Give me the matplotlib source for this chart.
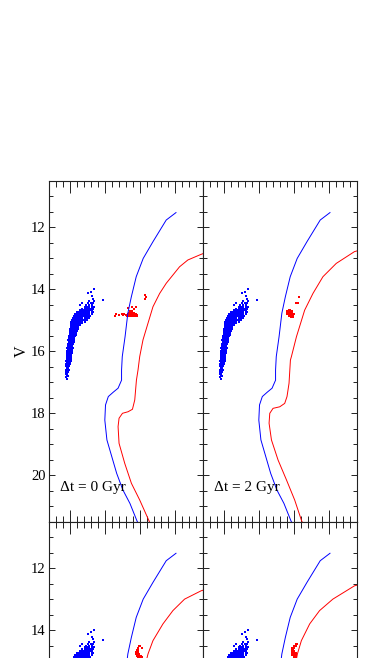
import matplotlib

matplotlib.use("Agg")
import matplotlib.pyplot as plt
from matplotlib.ticker import MultipleLocator

plt.rcParams["font.family"] = ["Liberation Serif", "DejaVu Serif"]

# isochrones (colour, V)
blue_iso_col = [1.52, 1.38, 1.19, 1.05, 0.95, 0.88, 0.83, 0.79, 0.75, 0.74, 0.74, 0.69,
                0.62, 0.55, 0.51, 0.50, 0.53, 0.60, 0.67, 0.76, 0.86, 0.96, 1.00]
blue_iso_v = [11.52, 11.76, 12.46, 13.00, 13.59, 14.24, 14.77, 15.53, 16.17, 16.60, 16.93, 17.19,
              17.32, 17.46, 17.73, 18.22, 18.86, 19.40, 19.94, 20.48, 20.91, 21.47, 21.65]

red_iso_col_0 = [2.00, 1.857, 1.69, 1.571, 1.381, 1.286, 1.19, 1.119, 1.047, 1.00, 0.976, 0.953,
                 0.929, 0.896, 0.833, 0.753, 0.704, 0.69, 0.704, 0.786, 0.881, 1.00, 1.133, 1.16]
red_iso_v_0 = [12.76, 12.89, 13.05, 13.27, 13.80, 14.13, 14.56, 15.09, 15.63, 16.17, 16.60, 16.93,
               17.57, 17.87, 17.95, 18.00, 18.16, 18.43, 18.97, 19.62, 20.26, 20.80, 21.47, 21.60]

red_iso_col_1 = [2.00, 1.871, 1.61, 1.419, 1.276, 1.157, 1.039, 0.967, 0.953, 0.933, 0.904, 0.871,
                 0.80, 0.704, 0.657, 0.647, 0.681, 0.776, 0.896, 1.014, 1.11, 1.14]
red_iso_v_1 = [12.70, 12.78, 13.16, 13.59, 14.13, 14.67, 15.53, 16.17, 16.28, 17.03, 17.46, 17.68,
               17.79, 17.84, 18.00, 18.32, 18.86, 19.51, 20.15, 20.80, 21.45, 21.60]

red_iso_col_2 = [2.00, 1.881, 1.643, 1.476, 1.333, 1.19, 1.119, 1.06, 1.01, 0.98, 0.95, 0.92,
                 0.86, 0.76, 0.68, 0.66, 0.70, 0.80, 0.92, 1.03, 1.13]
red_iso_v_2 = [12.65, 12.73, 13.00, 13.37, 13.80, 14.34, 14.77, 15.30, 16.00, 16.60, 17.20, 17.60,
               17.75, 17.82, 17.95, 18.30, 18.90, 19.55, 20.20, 20.85, 21.50]

red_iso_col_3 = [2.00, 1.871, 1.561, 1.371, 1.229, 1.11, 1.053, 1.01, 0.98, 0.95, 0.92, 0.86,
                 0.76, 0.68, 0.66, 0.70, 0.80, 0.92, 1.03, 1.13]
red_iso_v_3 = [12.50, 12.57, 13.00, 13.37, 13.80, 14.34, 14.77, 15.30, 16.00, 16.80, 17.50, 17.70,
               17.78, 17.92, 18.30, 18.90, 19.55, 20.20, 20.85, 21.50]

# blue stars: one V per row, several colours per row
blue_rows_v = [16.90, 16.84, 16.78, 16.72, 16.66, 16.60, 16.54, 16.48, 16.42, 16.36, 16.30,
               16.24, 16.18, 16.12, 16.06, 16.00, 15.94, 15.88, 15.82, 15.76, 15.70, 15.64,
               15.58, 15.52, 15.46, 15.40, 15.34, 15.28, 15.22, 15.16, 15.10, 15.04, 14.98,
               14.92, 14.86, 14.80, 14.74, 14.68, 14.62, 14.56, 14.50, 14.44, 14.38, 14.33,
               14.30, 14.22, 14.13, 14.07, 14.00]
blue_rows_col = [
    [-0.04], [-0.055], [-0.045, -0.03], [-0.06, -0.035], [-0.05, -0.025],
    [-0.055, -0.035, -0.015], [-0.045, -0.025], [-0.05, -0.03, -0.01],
    [-0.055, -0.035, -0.015, 0.0], [-0.045, -0.025, -0.005], [-0.05, -0.03, -0.01, 0.01],
    [-0.04, -0.02, 0.0, 0.015], [-0.045, -0.025, -0.005, 0.015], [-0.04, -0.02, 0.0, 0.02],
    [-0.035, -0.015, 0.005, 0.025], [-0.04, -0.02, 0.0, 0.02, 0.03],
    [-0.03, -0.01, 0.01, 0.03], [-0.035, -0.015, 0.005, 0.025, 0.04],
    [-0.025, -0.005, 0.015, 0.035], [-0.03, -0.01, 0.01, 0.03, 0.05],
    [-0.02, 0.0, 0.02, 0.04, 0.055], [-0.025, -0.005, 0.015, 0.035, 0.06],
    [-0.015, 0.005, 0.025, 0.045, 0.065], [-0.01, 0.01, 0.03, 0.05, 0.075],
    [-0.005, 0.015, 0.035, 0.055, 0.08], [0.0, 0.02, 0.04, 0.06, 0.085],
    [-0.005, 0.015, 0.035, 0.055, 0.075, 0.095], [0.005, 0.025, 0.045, 0.065, 0.09, 0.11],
    [0.01, 0.03, 0.05, 0.07, 0.09, 0.12], [0.01, 0.03, 0.05, 0.075, 0.10, 0.125, 0.15],
    [0.02, 0.04, 0.06, 0.085, 0.11, 0.14, 0.17],
    [0.02, 0.045, 0.07, 0.095, 0.12, 0.15, 0.18, 0.21],
    [0.03, 0.055, 0.08, 0.105, 0.13, 0.16, 0.19, 0.22, 0.25],
    [0.04, 0.065, 0.09, 0.12, 0.15, 0.18, 0.21, 0.24, 0.27],
    [0.055, 0.08, 0.11, 0.14, 0.17, 0.20, 0.23, 0.26, 0.29],
    [0.075, 0.10, 0.13, 0.16, 0.19, 0.22, 0.25, 0.28, 0.31],
    [0.10, 0.13, 0.16, 0.19, 0.22, 0.25, 0.28, 0.31, 0.33],
    [0.14, 0.17, 0.20, 0.23, 0.26, 0.29, 0.32], [0.18, 0.21, 0.24, 0.27, 0.30, 0.33],
    [0.21, 0.25, 0.28, 0.31, 0.34], [0.14, 0.23, 0.27, 0.31], [0.17, 0.26, 0.30, 0.33],
    [0.28, 0.35], [0.476], [0.33], [0.32], [0.26], [0.30], [0.35],
]

# red stars, one block per panel
red_rows_v_0 = [14.18, 14.24, 14.30, 14.56, 14.58, 14.61, 14.64, 14.70, 14.75, 14.80, 14.84, 14.87]
red_rows_col_0 = [
    [1.07], [1.085], [1.08], [0.943], [0.89], [0.833], [0.919], [0.86, 0.89],
    [0.84, 0.87, 0.90, 0.92],
    [0.66, 0.74, 0.78, 0.83, 0.85, 0.87, 0.89, 0.91, 0.93, 0.95],
    [0.71, 0.76, 0.80, 0.82, 0.84, 0.86, 0.88, 0.90, 0.92, 0.94, 0.96],
    [0.64, 0.82, 0.84, 0.86, 0.88, 0.90, 0.92, 0.94, 0.96],
]
red_rows_v_1 = [14.26, 14.43, 14.45, 14.66, 14.71, 14.76, 14.81, 14.86, 14.90]
red_rows_col_1 = [
    [1.076], [1.029], [1.061], [0.93, 0.95], [0.91, 0.93, 0.95, 0.97],
    [0.90, 0.92, 0.94, 0.96, 0.98], [0.91, 0.93, 0.95, 0.97, 0.99, 1.01],
    [0.93, 0.95, 0.97, 0.99], [0.96, 0.99],
]
red_rows_v_2 = [14.52, 14.58, 14.64, 14.70, 14.76, 14.82, 14.88, 14.94]
red_rows_col_2 = [
    [0.99, 1.01], [0.97, 1.03], [0.96, 0.98], [0.95, 0.97], [0.95, 0.97, 0.99],
    [0.96, 0.98, 1.00, 1.02], [0.97, 0.99, 1.01, 1.03], [0.98, 1.00, 1.02],
]
red_rows_v_3 = [14.45, 14.51, 14.57, 14.63, 14.69, 14.75, 14.81, 14.87]
red_rows_col_3 = [
    [1.03, 1.05], [1.00, 1.04], [0.98, 1.00], [0.97, 0.99], [0.97, 0.99, 1.01],
    [0.97, 0.99, 1.01, 1.03], [0.98, 1.00, 1.02, 1.04], [1.00, 1.02, 1.04],
]

panel_labels = ["Δt = 0 Gyr", "Δt = 2 Gyr", None, None]
v_ticks = [12, 14, 16, 18, 20]
v_tick_labels = ["12", "14", "16", "18", "20"]


def expand(rows_v, rows_col):
    xs, ys = [], []
    for v, cols in zip(rows_v, rows_col):
        for c in cols:
            xs.append(c)
            ys.append(v)
    return xs, ys


def draw_panel(ax, red_col, red_v, red_rows_v, red_rows_col, label, show_y, lower):
    ax.plot(blue_iso_col, blue_iso_v, color="#0000ff", lw=0.7)
    ax.plot(red_col, red_v, color="#ff0000", lw=0.7)
    bx, by = expand(blue_rows_v, blue_rows_col)
    ax.scatter(bx, by, s=4, marker="s", color="#0000ff", linewidths=0)
    rx, ry = expand(red_rows_v, red_rows_col)
    ax.scatter(rx, ry, s=4, marker="s", color="#ff0000", linewidths=0)

    ax.set_xlim(-0.3, 1.9)
    ax.set_ylim(21.5, 10.5)
    ax.xaxis.set_major_locator(MultipleLocator(0.5))
    ax.xaxis.set_minor_locator(MultipleLocator(0.1))
    ax.set_yticks(v_ticks)
    # the lower row runs off the bottom of the picture: only 12 and 14 are seen
    if lower:
        ax.set_yticklabels(v_tick_labels[:2] + [""] * 3)
    else:
        ax.set_yticklabels(v_tick_labels)
    ax.yaxis.set_minor_locator(MultipleLocator(0.5))
    ax.tick_params(which="both", direction="in", top=True, right=True,
                   labelbottom=False, labelleft=show_y, width=0.7, color="#222222")
    ax.tick_params(axis="x", which="major", length=8.6)
    ax.tick_params(axis="x", which="minor", length=4.3)
    ax.tick_params(axis="y", which="major", length=4.3, labelsize=10.5, pad=2.5)
    ax.tick_params(axis="y", which="minor", length=2.9)
    for spine in ax.spines.values():
        spine.set_linewidth(0.8)
        spine.set_color("#222222")
    if show_y and not lower:
        ax.set_ylabel("V", fontsize=11.5, labelpad=1)
    if label:
        ax.text(0.07, 0.09, label, transform=ax.transAxes, fontsize=11,
                ha="left", va="baseline")


fig = plt.figure(figsize=(3.83, 6.58), dpi=100)
left_x, right_x = 49 / 383, 203 / 383
width = 153.5 / 383
height = 340.7 / 658
top_bottom = 1 - 521.7 / 658
low_bottom = top_bottom - height

panels = [
    (left_x, top_bottom, red_iso_col_0, red_iso_v_0, red_rows_v_0, red_rows_col_0, True, False),
    (right_x, top_bottom, red_iso_col_1, red_iso_v_1, red_rows_v_1, red_rows_col_1, False, False),
    (left_x, low_bottom, red_iso_col_2, red_iso_v_2, red_rows_v_2, red_rows_col_2, True, True),
    (right_x, low_bottom, red_iso_col_3, red_iso_v_3, red_rows_v_3, red_rows_col_3, False, True),
]
for i, (x0, y0, rc, rv, rrv, rrc, show_y, lower) in enumerate(panels):
    ax = fig.add_axes([x0, y0, width, height])
    draw_panel(ax, rc, rv, rrv, rrc, panel_labels[i], show_y, lower)

fig.savefig("out.png", dpi=100)
